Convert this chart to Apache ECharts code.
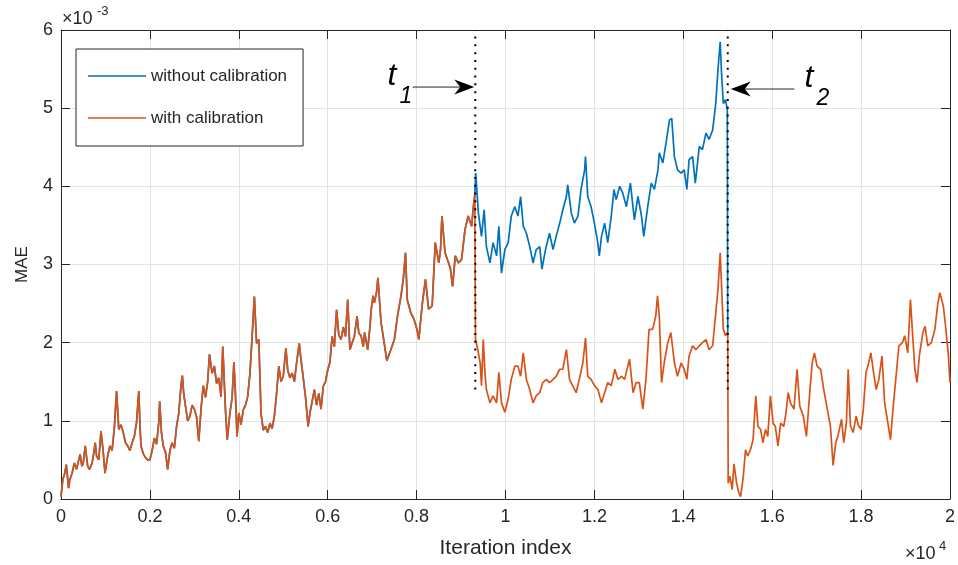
<!DOCTYPE html>
<html>
<head>
<meta charset="utf-8">
<script src="https://cdn.jsdelivr.net/npm/echarts@6/dist/echarts.min.js"></script>
<style>
  html, body { margin: 0; padding: 0; background: #ffffff; }
  #chart { width: 958px; height: 565px; }
</style>
</head>
<body>
<div id="chart"></div>
<script>
// ---- tick labels ---------------------------------------------------------
const xTickLabels = ['0', '0.2', '0.4', '0.6', '0.8', '1', '1.2', '1.4', '1.6', '1.8', '2'];
const yTickLabels = ['0', '1', '2', '3', '4', '5', '6'];
const seriesNames = ['without calibration', 'with calibration'];

// ---- MAE traces, [iteration, MAE x 1e-3] ---------------------------------
// common part of both runs, before the first calibration switch
const sharedRun = [
  [0,0.03],[40,0.25],[80,0.32],[120,0.44],[170,0.14],[200,0.25],[250,0.33],[300,0.46],[350,0.38],[400,0.5],
  [430,0.57],[470,0.42],[500,0.46],[545,0.68],[600,0.42],[640,0.38],[700,0.46],[740,0.6],[770,0.72],[800,0.55],
  [850,0.5],[900,0.87],[950,0.6],[990,0.33],[1050,0.55],[1100,0.68],[1150,0.62],[1200,0.91],[1250,1.38],[1300,0.89],
  [1350,0.95],[1400,0.85],[1450,0.72],[1500,0.68],[1550,0.62],[1600,0.72],[1650,0.8],[1700,0.98],[1750,1.38],[1780,0.9],
  [1800,0.68],[1850,0.58],[1900,0.53],[1950,0.5],[2000,0.5],[2050,0.62],[2100,0.78],[2150,0.7],[2200,0.98],[2220,1.25],
  [2260,0.85],[2300,0.68],[2350,0.6],[2400,0.38],[2450,0.62],[2500,0.72],[2550,0.65],[2600,0.93],[2650,1.1],[2700,1.45],
  [2730,1.58],[2760,1.35],[2800,1.19],[2850,1.0],[2900,1.06],[2950,1.2],[3000,1.15],[3050,1.05],[3100,0.74],[3150,1.15],
  [3200,1.45],[3250,1.3],[3300,1.5],[3340,1.85],[3400,1.61],[3450,1.7],[3500,1.48],[3550,1.55],[3600,1.31],[3640,1.95],
  [3700,1.14],[3740,0.76],[3800,1.1],[3850,1.3],[3890,1.75],[3920,1.4],[3960,0.8],[4000,1.1],[4050,0.95],[4100,1.14],
  [4150,1.2],[4200,1.31],[4250,1.6],[4300,2.08],[4350,2.59],[4400,1.99],[4450,2.04],[4500,1.1],[4550,0.88],[4600,0.93],
  [4650,0.85],[4700,0.97],[4750,0.9],[4800,1.06],[4850,1.35],[4900,1.7],[4950,1.5],[5000,1.57],[5060,1.93],[5100,1.65],
  [5150,1.55],[5200,1.61],[5250,1.5],[5300,1.74],[5360,1.99],[5400,1.78],[5450,1.55],[5500,1.31],[5560,0.93],[5600,1.1],
  [5650,1.25],[5700,1.4],[5750,1.2],[5800,1.35],[5850,1.15],[5900,1.44],[5950,1.5],[6000,1.65],[6050,1.75],[6100,2.08],
  [6150,1.95],[6200,2.42],[6250,2.1],[6300,2.04],[6350,2.2],[6400,2.08],[6450,2.55],[6500,1.91],[6550,2.0],[6600,2.08],
  [6660,2.34],[6700,2.12],[6750,2.09],[6800,1.95],[6830,2.13],[6900,1.91],[6950,2.2],[6980,2.43],[7020,2.6],[7050,2.51],
  [7100,2.65],[7130,2.83],[7200,2.26],[7270,2.0],[7330,1.77],[7420,1.91],[7500,2.04],[7570,2.34],[7650,2.6],[7700,2.81],
  [7750,3.15],[7790,2.55],[7870,2.38],[7940,2.3],[8010,2.17],[8050,2.04],[8130,2.51],[8200,2.81],[8270,2.43],[8350,2.47],
  [8420,3.28],[8500,3.02],[8540,3.2],[8570,3.62],[8640,3.15],[8720,3.02],[8760,2.95],[8810,2.72],[8870,3.11],[8940,3.02],
  [9010,3.06],[9090,3.45],[9160,3.62],[9240,3.49],[9270,3.7],[9310,3.9]
];

// run without calibration, between the two switch points
const withoutCalMid = [
  [9330,4.17],[9390,3.66],[9460,3.36],[9520,3.7],[9570,3.23],[9650,3.02],[9720,3.28],[9800,3.11],[9850,3.49],[9910,2.89],
  [9985,3.19],[10060,3.28],[10130,3.62],[10210,3.74],[10280,3.62],[10340,3.87],[10400,3.49],[10470,3.4],[10545,3.23],[10620,3.02],
  [10690,3.19],[10770,3.23],[10820,2.94],[10900,3.19],[10990,3.4],[11070,3.19],[11140,3.36],[11220,3.53],[11290,3.7],[11370,3.87],
  [11400,4.02],[11480,3.66],[11550,3.53],[11630,3.62],[11700,3.96],[11780,4.21],[11800,4.38],[11850,3.87],[11925,3.74],[12000,3.53],
  [12075,3.28],[12110,3.11],[12160,3.36],[12230,3.53],[12300,3.28],[12380,3.62],[12440,3.96],[12490,3.83],[12570,4.0],[12640,3.91],
  [12720,3.74],[12810,4.04],[12900,3.57],[12980,3.87],[13060,3.62],[13110,3.36],[13200,3.74],[13280,4.04],[13350,3.96],[13430,4.21],
  [13460,4.43],[13540,4.3],[13610,4.55],[13690,4.85],[13740,4.87],[13800,4.38],[13870,4.21],[13950,4.17],[14020,4.21],[14080,3.96],
  [14130,4.34],[14210,4.38],[14270,4.04],[14360,4.51],[14430,4.47],[14510,4.68],[14580,4.6],[14660,4.72],[14730,5.06],[14780,5.49],
  [14830,5.85],[14860,5.45],[14900,5.06],[14950,5.11],[14990,4.98],[15000,2.1]
];

// run with calibration, between the two switch points
const withCalMid = [
  [9325,2.05],[9380,1.9],[9430,1.74],[9460,1.45],[9500,2.04],[9540,1.6],[9570,1.4],[9650,1.23],[9720,1.32],[9800,1.23],
  [9850,1.62],[9910,1.23],[9985,1.11],[10060,1.28],[10130,1.53],[10210,1.7],[10280,1.7],[10340,1.57],[10400,1.87],[10470,1.53],
  [10545,1.4],[10620,1.23],[10690,1.32],[10770,1.36],[10840,1.49],[10920,1.53],[10990,1.49],[11070,1.53],[11140,1.57],[11220,1.66],
  [11290,1.66],[11370,1.91],[11440,1.53],[11510,1.45],[11590,1.36],[11660,1.53],[11740,1.74],[11800,2.06],[11850,1.57],[11925,1.53],
  [12000,1.45],[12080,1.4],[12160,1.23],[12230,1.36],[12300,1.49],[12380,1.45],[12460,1.66],[12530,1.53],[12610,1.57],[12680,1.53],
  [12790,1.79],[12870,1.36],[12940,1.49],[13010,1.49],[13090,1.15],[13160,1.53],[13230,2.17],[13310,2.17],[13380,2.34],[13420,2.6],
  [13460,2.34],[13510,1.49],[13570,1.74],[13650,2.0],[13720,2.13],[13800,1.74],[13870,1.57],[13950,1.74],[14020,1.66],[14080,1.53],
  [14130,1.83],[14210,1.96],[14280,1.91],[14360,1.96],[14430,2.0],[14510,2.04],[14580,1.91],[14660,1.96],[14730,2.38],[14780,2.68],
  [14830,3.15],[14870,2.6],[14900,2.17],[14950,2.09],[14990,2.13],[15000,2.1]
];

// run with calibration, after the second switch point
const withCalTail = [
  [15010,0.2],[15050,0.29],[15100,0.12],[15140,0.45],[15200,0.2],[15250,0.08],[15290,0.03],[15350,0.29],[15400,0.63],[15450,0.55],
  [15510,0.63],[15570,0.76],[15630,1.32],[15680,0.93],[15740,0.89],[15790,0.72],[15850,0.89],[15900,0.8],[15960,1.32],[16020,0.97],
  [16070,0.93],[16130,0.68],[16190,0.97],[16260,0.93],[16310,1.1],[16360,1.36],[16410,1.23],[16490,1.15],[16560,1.66],[16620,1.19],
  [16700,1.06],[16770,0.8],[16850,1.4],[16900,1.74],[16950,1.87],[17010,1.7],[17090,1.66],[17160,1.4],[17240,1.15],[17310,0.93],
  [17370,0.43],[17430,0.72],[17480,0.81],[17560,1.02],[17610,0.72],[17670,0.98],[17710,1.66],[17760,0.94],[17820,0.85],[17890,1.06],
  [17940,0.94],[18000,0.89],[18050,1.15],[18110,1.62],[18170,1.74],[18220,1.87],[18280,1.62],[18340,1.4],[18400,1.53],[18470,1.83],
  [18530,1.23],[18590,1.02],[18660,0.76],[18730,1.23],[18780,1.53],[18850,1.96],[18930,2.0],[18980,2.09],[19050,1.87],[19110,2.55],
  [19160,2.09],[19210,1.66],[19260,1.49],[19310,1.83],[19390,2.13],[19440,2.21],[19500,1.96],[19580,2.0],[19660,2.17],[19720,2.47],
  [19770,2.64],[19850,2.47],[19900,2.21],[19960,1.87],[20000,1.49]
];

// switch instants and the annotation geometry (data units)
const switchTimes = [9320, 15000];
const switchSpan = [1.4, 6];
const switchLabels = ['1', '2'];
const arrowTails = [[7910, 5.27], [16500, 5.245]];

// ---- styling ---------------------------------------------------------------
const FONT = '"Liberation Sans", Arial, Helvetica, sans-serif';
const INK = '#262626';
const GRID_COLOR = '#e3e3e3';
const BLUE = '#0072BD';
const ORANGE = '#D95319';
const TRACE_WIDTH = 1.7;

const chart = echarts.init(document.getElementById('chart'), null, { renderer: 'canvas' });

const boxAxis = {
  axisLine: { show: true, onZero: false, lineStyle: { color: INK, width: 1 } },
  axisTick: { show: true, inside: true, length: 9, lineStyle: { color: INK, width: 1 } },
  splitLine: { show: false },
  axisLabel: { show: false }
};

const switchLines = switchTimes.map(function (t, i) {
  return {
    type: 'line',
    name: 'switch' + i,
    data: [[t, switchSpan[0]], [t, switchSpan[1]]],
    symbol: 'none',
    silent: true,
    z: 5,
    lineStyle: { color: '#000000', width: 2, type: [2, 5.8], cap: 'butt' },
    animation: false
  };
});

chart.setOption({
  animation: false,
  backgroundColor: '#ffffff',
  grid: { left: 61, top: 30, width: 890, height: 469, containLabel: false },
  xAxis: [
    {
      type: 'value', min: 0, max: 20000, interval: 2000,
      name: 'Iteration index', nameLocation: 'middle', nameGap: 39,
      nameTextStyle: { fontFamily: FONT, fontSize: 21, color: INK },
      axisLine: { show: true, onZero: false, lineStyle: { color: INK, width: 1 } },
      axisTick: { show: true, inside: true, length: 9, lineStyle: { color: INK } },
      axisLabel: {
        margin: 9, fontFamily: FONT, fontSize: 18, color: INK,
        formatter: function (v) { return xTickLabels[Math.round(v / 2000)]; }
      },
      splitLine: { show: true, lineStyle: { color: GRID_COLOR, width: 1 } }
    },
    Object.assign({ type: 'value', position: 'top', min: 0, max: 20000, interval: 2000, gridIndex: 0 }, boxAxis)
  ],
  yAxis: [
    {
      type: 'value', min: 0, max: 6, interval: 1,
      name: 'MAE', nameLocation: 'middle', nameGap: 30,
      nameTextStyle: { fontFamily: FONT, fontSize: 17, color: INK },
      axisLine: { show: true, onZero: false, lineStyle: { color: INK, width: 1 } },
      axisTick: { show: true, inside: true, length: 9, lineStyle: { color: INK } },
      axisLabel: {
        margin: 8, fontFamily: FONT, fontSize: 18, color: INK,
        formatter: function (v) { return yTickLabels[Math.round(v)]; }
      },
      splitLine: { show: true, lineStyle: { color: GRID_COLOR, width: 1 } }
    },
    Object.assign({ type: 'value', position: 'right', min: 0, max: 6, interval: 1, gridIndex: 0 }, boxAxis)
  ],
  legend: {
    data: seriesNames,
    orient: 'vertical',
    left: 76, top: 49,
    padding: [17, 16, 18, 12],
    itemGap: 22,
    icon: 'rect',
    itemWidth: 58, itemHeight: 1.6,
    backgroundColor: '#ffffff',
    borderColor: INK, borderWidth: 1,
    textStyle: { fontFamily: FONT, fontSize: 17, color: INK, lineHeight: 20 },
    selectedMode: false
  },
  series: [
    {
      type: 'line', name: seriesNames[0],
      data: sharedRun.concat(withoutCalMid),
      symbol: 'none', z: 3,
      lineStyle: { color: BLUE, width: TRACE_WIDTH, join: 'bevel' },
      itemStyle: { color: BLUE }
    },
    {
      type: 'line', name: seriesNames[1],
      data: sharedRun.concat(withCalMid, withCalTail),
      symbol: 'none', z: 4,
      lineStyle: { color: ORANGE, width: TRACE_WIDTH, join: 'bevel' },
      itemStyle: { color: ORANGE }
    }
  ].concat(switchLines)
});

// ---- annotations: t1 / t2 arrows and the axis exponents -------------------
function px(p) { return chart.convertToPixel({ gridIndex: 0 }, p); }

const graphics = [];
switchTimes.forEach(function (t, i) {
  const tail = px(arrowTails[i]);
  const tipX = px([t, arrowTails[i][1]])[0] + (i === 0 ? -1 : 3);
  const y = tail[1];
  const dir = tipX > tail[0] ? 1 : -1;
  const headLen = 20, headHalf = 7.5, notch = 6;
  graphics.push({
    type: 'line', silent: true, z: 20,
    shape: { x1: tail[0], y1: y, x2: tipX - dir * (headLen - notch), y2: y },
    style: { stroke: INK, lineWidth: 1 }
  });
  graphics.push({
    type: 'polygon', silent: true, z: 20,
    shape: { points: [
      [tipX, y],
      [tipX - dir * headLen, y - headHalf],
      [tipX - dir * (headLen - notch), y],
      [tipX - dir * headLen, y + headHalf]
    ] },
    style: { fill: '#000000' }
  });
  // "t" with subscript index
  const tx = i === 0 ? tail[0] - 25 : tail[0] + 10;
  graphics.push({
    type: 'text', silent: true, z: 20,
    style: { x: tx, y: y + 5, text: 't', font: 'italic 32px ' + FONT, fill: '#000000',
             textAlign: 'left', textVerticalAlign: 'bottom' }
  });
  graphics.push({
    type: 'text', silent: true, z: 20,
    style: { x: tx + 12, y: y + 21, text: switchLabels[i], font: 'italic 23px ' + FONT, fill: '#000000',
             textAlign: 'left', textVerticalAlign: 'bottom' }
  });
});

// axis multipliers
const topLeft = px([0, 6]);
graphics.push({
  type: 'text', silent: true, z: 20,
  style: { x: topLeft[0] + 1, y: topLeft[1] - 2, text: '\u00d710', font: '18px ' + FONT, fill: INK,
           textAlign: 'left', textVerticalAlign: 'bottom' }
});
graphics.push({
  type: 'text', silent: true, z: 20,
  style: { x: topLeft[0] + 36, y: topLeft[1] - 12, text: '-3', font: '13px ' + FONT, fill: INK,
           textAlign: 'left', textVerticalAlign: 'bottom' }
});
const bottomRight = px([20000, 0]);
graphics.push({
  type: 'text', silent: true, z: 20,
  style: { x: bottomRight[0] - 45, y: bottomRight[1] + 64, text: '\u00d710', font: '18px ' + FONT, fill: INK,
           textAlign: 'left', textVerticalAlign: 'bottom' }
});
graphics.push({
  type: 'text', silent: true, z: 20,
  style: { x: bottomRight[0] - 11, y: bottomRight[1] + 54, text: '4', font: '13px ' + FONT, fill: INK,
           textAlign: 'left', textVerticalAlign: 'bottom' }
});

chart.setOption({ graphic: graphics });
</script>
</body>
</html>
